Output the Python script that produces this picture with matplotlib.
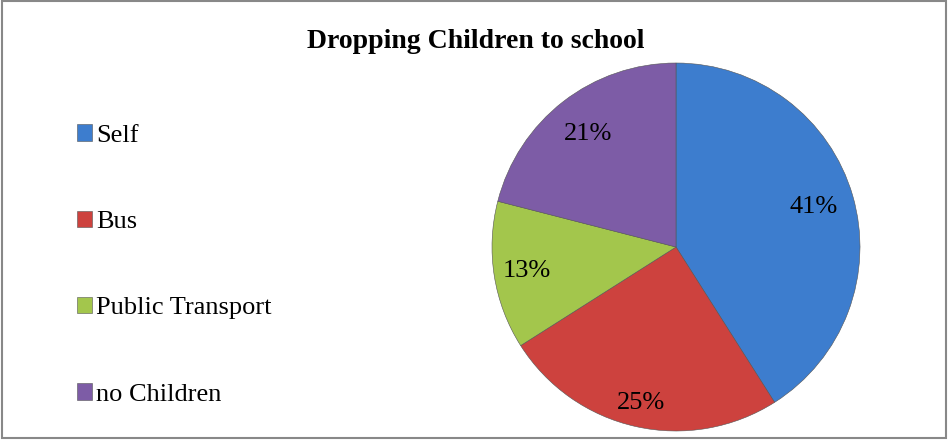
import numpy as np
import matplotlib.pyplot as plt
from matplotlib.patches import Rectangle

categories = ['Self', 'Bus', 'Public Transport', 'no Children']
shares = [41, 25, 13, 21]
colors = ['#3D7DCE', '#CD423E', '#A3C64C', '#7D5CA6']
label_dist = [0.78, 0.87, 0.82, 0.78]

plt.rcParams['font.family'] = ['Liberation Serif', 'DejaVu Serif']

W, H = 948, 440
fig = plt.figure(figsize=(W / 100, H / 100), dpi=100)

# pie placement in pixels: centre and radius
cx, cy, r = 676, 247, 184
ax = fig.add_axes([(cx - r) / W, (H - cy - r) / H, 2 * r / W, 2 * r / H])

wedges, _ = ax.pie(shares, colors=colors, startangle=90, counterclock=False,
                   wedgeprops=dict(edgecolor='#555555', linewidth=0.4))
ax.set_xlim(-1, 1)
ax.set_ylim(-1, 1)
ax.set_aspect('equal')
ax.axis('off')

for w, v, d in zip(wedges, shares, label_dist):
    mid = np.deg2rad((w.theta1 + w.theta2) / 2)
    ax.text(d * np.cos(mid), d * np.sin(mid), f'{v}%', ha='center', va='center',
            fontsize=19, color='black')

fig.text(476 / W, 1 - 42 / H, 'Dropping Children to school', ha='center', va='center',
         fontsize=20, fontweight='bold')

leg = fig.legend(wedges, categories, loc='center left',
                 bbox_to_anchor=(77 / W, 1 - 265 / H), frameon=False,
                 fontsize=19, handlelength=0.58, handleheight=0.58,
                 handletextpad=0.15, labelspacing=2.42,
                 borderpad=0, borderaxespad=0)

# outer chart border
fig.patches.append(Rectangle((1.5 / W, 2.5 / H), (W - 3.5) / W, (H - 4) / H,
                             transform=fig.transFigure, fill=False,
                             edgecolor='#888888', linewidth=1.5))

fig.savefig('out.png', dpi=100)
